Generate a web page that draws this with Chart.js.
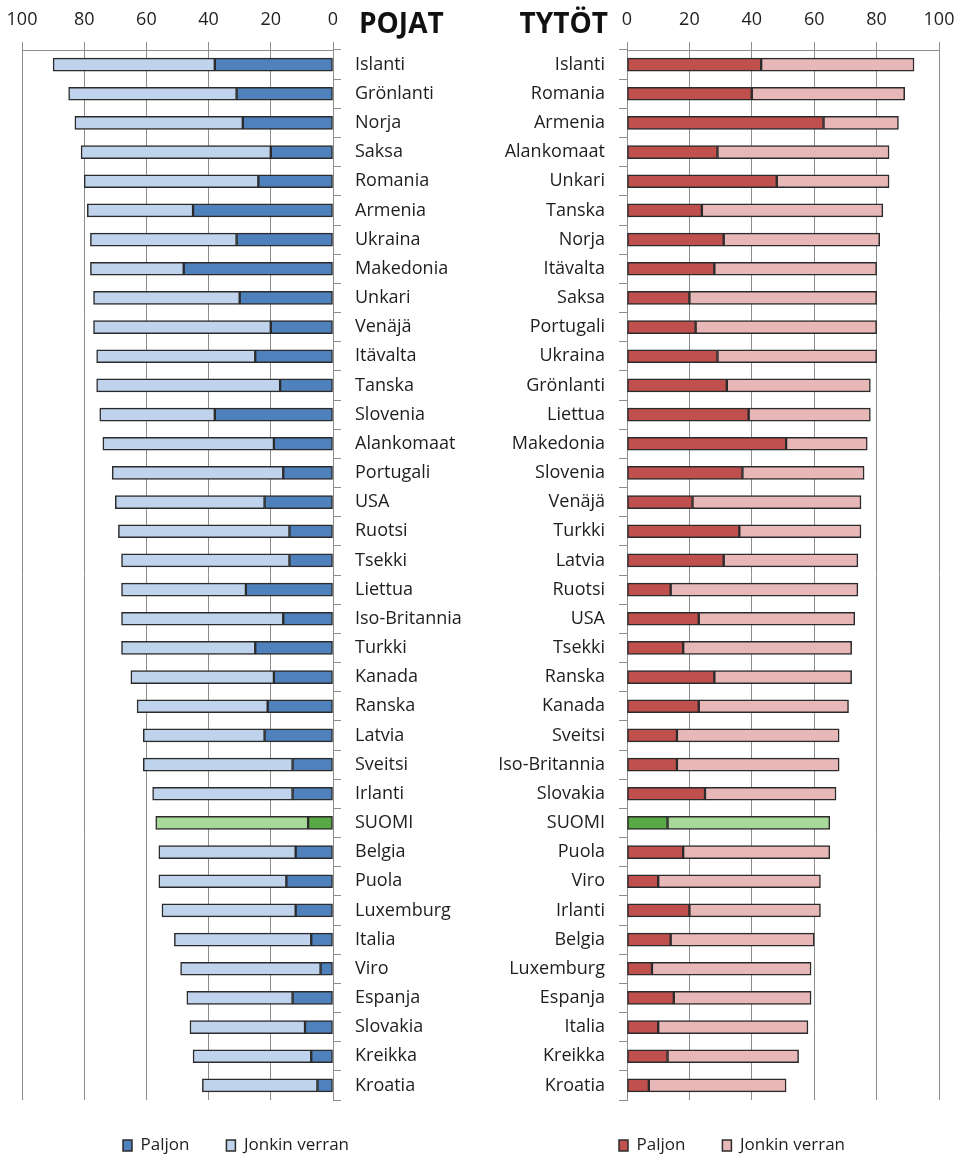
<!DOCTYPE html>
<html>
<head>
<meta charset="utf-8">
<script src="https://cdn.jsdelivr.net/npm/chart.js@4.4.1/dist/chart.umd.min.js"></script>
<style>
html,body{margin:0;padding:0;background:#fff;width:961px;height:1159px;overflow:hidden;}
#wrap{position:relative;width:961px;height:1159px;overflow:hidden;background:#fff;}
canvas{position:absolute;top:0;}
#cL{left:0;}
#cR{left:493px;}
.ttl{position:absolute;top:8px;font-family:'Open Sans',sans-serif;font-weight:bold;font-size:28px;line-height:28px;color:#111;white-space:nowrap;}
#tL{left:359px;}
#tR{right:353px;}
</style>
</head>
<body>
<div id="wrap">
  <canvas id="cL" width="472" height="1164"></canvas>
  <canvas id="cR" width="478" height="1164"></canvas>
  <div class="ttl" id="tL">POJAT</div>
  <div class="ttl" id="tR">TYTÖT</div>
</div>
<script>
// ---- data ----
const boysLabels = ["Islanti","Grönlanti","Norja","Saksa","Romania","Armenia","Ukraina","Makedonia","Unkari","Venäjä","Itävalta","Tanska","Slovenia","Alankomaat","Portugali","USA","Ruotsi","Tsekki","Liettua","Iso-Britannia","Turkki","Kanada","Ranska","Latvia","Sveitsi","Irlanti","SUOMI","Belgia","Puola","Luxemburg","Italia","Viro","Espanja","Slovakia","Kreikka","Kroatia"];
const boysPaljon = [38,31,29,20,24,45,31,48,30,20,25,17,38,19,16,22,14,14,28,16,25,19,21,22,13,13,8,12,15,12,7,4,13,9,7,5];
const boysJonkin = [52,54,54,61,56,34,47,30,47,57,51,59,37,55,55,48,55,54,40,52,43,46,42,39,48,45,49,44,41,43,44,45,34,37,38,37];

const girlsLabels = ["Islanti","Romania","Armenia","Alankomaat","Unkari","Tanska","Norja","Itävalta","Saksa","Portugali","Ukraina","Grönlanti","Liettua","Makedonia","Slovenia","Venäjä","Turkki","Latvia","Ruotsi","USA","Tsekki","Ranska","Kanada","Sveitsi","Iso-Britannia","Slovakia","SUOMI","Puola","Viro","Irlanti","Belgia","Luxemburg","Espanja","Italia","Kreikka","Kroatia"];
const girlsPaljon = [43,40,63,29,48,24,31,28,20,22,29,32,39,51,37,21,36,31,14,23,18,28,23,16,16,25,13,18,10,20,14,8,15,10,13,7];
const girlsJonkin = [49,49,24,55,36,58,50,52,60,58,51,46,39,26,39,54,39,43,60,50,54,44,48,52,52,42,52,47,52,42,46,51,44,48,42,44];

const xTicks = [0,20,40,60,80,100];
const seriesNames = ["Paljon","Jonkin verran"];
const highlight = "SUOMI";

// ---- styles ----
const GRID = '#8c8c8c';
const EDGE = '#2b2b2b';
const TXT = '#1e1e1e';
const FONT = {family:"'Open Sans', sans-serif", size:18};
const GREEN_DARK = '#58a846', GREEN_LIGHT = '#a9d99a';
const palette = {
  L: {dark:'#4f81bd', light:'#bfd3ec'},
  R: {dark:'#c0504d', light:'#e8b7b7'}
};
const geom = {
  L: {catWidth: 139, padWidth: 22},
  R: {catWidth: 134, padWidth: 32}
};

function makeChart(id, labels, paljon, jonkin, side) {
  const isLeft = side === 'L';
  const col = palette[side];
  const g = geom[side];
  const colorFn = (base, hi) => (c) => labels[c.dataIndex] === highlight ? hi : base;
  return new Chart(document.getElementById(id), {
    type: 'bar',
    data: {
      labels: labels,
      datasets: [
        {label: seriesNames[0], data: paljon, xAxisID:'x', yAxisID:'y',
         backgroundColor: colorFn(col.dark, GREEN_DARK), borderColor: EDGE, borderWidth: 1.5, borderSkipped: false, barThickness: 13},
        {label: seriesNames[1], data: jonkin, xAxisID:'x', yAxisID:'y',
         backgroundColor: colorFn(col.light, GREEN_LIGHT), borderColor: EDGE, borderWidth: 1.5, borderSkipped: false, barThickness: 13}
      ]
    },
    options: {
      indexAxis: 'y',
      responsive: false,
      animation: false,
      layout: {padding: 0},
      scales: {
        x: {
          stacked: true, position: 'top', reverse: isLeft, min: 0, max: 100,
          afterBuildTicks: (s) => { s.ticks = xTicks.map(v => ({value: v})); },
          ticks: {padding: 11, color: TXT, font: FONT, maxRotation: 0},
          grid: {color: GRID, lineWidth: 1, tickLength: 8, drawTicks: true},
          border: {color: GRID, width: 1},
          afterFit: (s) => { s.height = 50; }
        },
        y: {
          stacked: true, position: isLeft ? 'right' : 'left',
          ticks: {padding: 14, color: TXT, font: FONT},
          grid: {drawOnChartArea: false, drawTicks: true, tickLength: 8, color: GRID},
          border: {color: GRID, width: 1},
          afterFit: (s) => { s.width = g.catWidth; }
        },
        pad: {
          type: 'linear', axis: 'y', position: isLeft ? 'left' : 'right', display: true,
          grid: {display: false}, ticks: {display: false}, border: {display: false},
          afterFit: (s) => { s.width = g.padWidth; }
        }
      },
      plugins: {
        legend: {
          position: 'bottom',
          labels: {boxWidth: 9, boxHeight: 11, padding: 37, color: TXT, font: {family: FONT.family, size: 17}}
        },
        tooltip: {enabled: false}
      }
    }
  });
}

makeChart('cL', boysLabels, boysPaljon, boysJonkin, 'L');
makeChart('cR', girlsLabels, girlsPaljon, girlsJonkin, 'R');
</script>
</body>
</html>
